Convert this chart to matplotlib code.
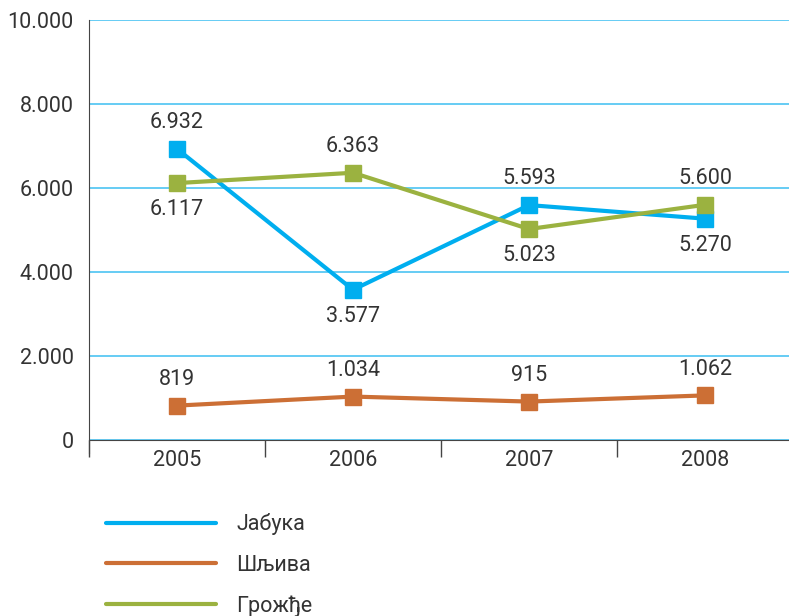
import matplotlib.pyplot as plt
import numpy as np

plt.rcParams['font.family'] = ['Roboto', 'DejaVu Sans']

years = ['2005', '2006', '2007', '2008']
jabuka = [6932, 3577, 5593, 5270]
sljiva = [819, 1034, 915, 1062]
grozdje = [6117, 6363, 5023, 5600]
names = ['Јабука', 'Шљива', 'Грожђе']
colors = ['#00aeef', '#cc6f35', '#9bb240']
# label side: +1 above the point, -1 below
label_side = [[1, -1, 1, -1], [1, 1, 1, 1], [-1, 1, -1, 1]]

FS = 15.5
TXT = '#333333'

fig = plt.figure(figsize=(7.89, 6.16), dpi=100)
ax = fig.add_axes([89/789, 176/616, 704/789, 420/616])

x = np.arange(len(years))
series = [jabuka, sljiva, grozdje]
lines = []
for vals, col, sides in zip(series, colors, label_side):
    ln, = ax.plot(x, vals, color=col, lw=3, marker='s', markersize=11, zorder=3)
    lines.append(ln)
    for xi, v, s in zip(x, vals, sides):
        txt = f'{v:,}'.replace(',', '.')
        ax.annotate(txt, (xi, v), xytext=(0, 19 * s), textcoords='offset points',
                    ha='center', va='center', fontsize=FS, color=TXT)

ax.set_xlim(-0.5, 3.5)
ax.set_ylim(0, 10000)
ax.set_yticks(np.arange(0, 10001, 2000))
ax.set_yticklabels([f'{v:,}'.replace(',', '.') for v in range(0, 10001, 2000)],
                   fontsize=FS, color=TXT)
ax.yaxis.grid(True, color='#4cc4f2', lw=1.2)
ax.set_axisbelow(True)
ax.tick_params(axis='y', length=0, pad=11)

ax.set_xticks(x)
ax.set_xticklabels(years, fontsize=FS, color=TXT)
ax.tick_params(axis='x', length=0, pad=7)
ax.set_xticks(np.arange(-0.5, 3.6, 1), minor=True)
ax.tick_params(axis='x', which='minor', length=12, width=1, color='#444444')

for side in ['top', 'right']:
    ax.spines[side].set_visible(False)
ax.spines['left'].set_color('#444444')
ax.spines['bottom'].set_color('#444444')
ax.spines['left'].set_bounds(-300, 10000)

fig.legend(lines, names, loc='upper left', bbox_to_anchor=(87/789, 1 - 494/616),
           frameon=False, handlelength=5.1, handletextpad=0.95,
           labelspacing=0.9, prop={'size': FS})
for h in fig.legends[0].legend_handles:
    h.set_marker('')
    h.set_solid_capstyle('round')
for t in fig.legends[0].get_texts():
    t.set_color(TXT)

fig.savefig('out.png', dpi=100)
